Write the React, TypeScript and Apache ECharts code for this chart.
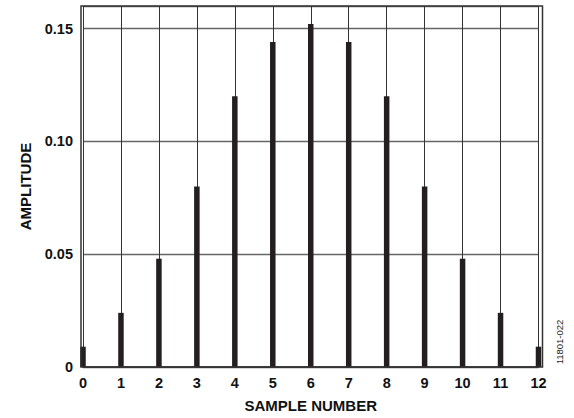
import React, { useEffect, useRef } from 'react';
import * as echarts from 'echarts';

// sample index vs amplitude
const samples = [0, 1, 2, 3, 4, 5, 6, 7, 8, 9, 10, 11, 12];
const amplitudes = [0.009, 0.024, 0.048, 0.08, 0.12, 0.144, 0.152, 0.144, 0.12, 0.08, 0.048, 0.024, 0.009];
const yTicks = [0, 0.05, 0.1, 0.15];

const FONT = 'Liberation Sans, Arial, sans-serif';

export default function App() {
  const chartRef = useRef<HTMLDivElement>(null);

  useEffect(() => {
    if (!chartRef.current) return;
    document.body.style.margin = '0';

    const chart = echarts.init(chartRef.current, null, { renderer: 'svg' });

    chart.setOption({
      animation: false,
      backgroundColor: '#ffffff',
      grid: { left: 83, top: 6, width: 455.5, height: 361 },
      xAxis: {
        type: 'value',
        min: 0,
        max: 12,
        interval: 1,
        name: 'SAMPLE NUMBER',
        nameLocation: 'middle',
        nameGap: 31,
        nameTextStyle: { fontFamily: FONT, fontWeight: 'bold', fontSize: 15, color: '#111' },
        axisLine: { show: true, lineStyle: { color: '#333', width: 1.5 } },
        axisTick: { show: false },
        axisLabel: { margin: 8, fontFamily: FONT, fontWeight: 'bold', fontSize: 14.5, color: '#111' },
        splitLine: { show: true, lineStyle: { color: '#333', width: 1 } }
      },
      yAxis: {
        type: 'value',
        min: 0,
        max: 0.16,
        interval: 0.05,
        name: 'AMPLITUDE',
        nameLocation: 'middle',
        nameGap: 50,
        nameTextStyle: { fontFamily: FONT, fontWeight: 'bold', fontSize: 15, color: '#111' },
        axisLine: { show: false },
        axisTick: { show: false },
        axisLabel: {
          margin: 10,
          showMaxLabel: false,
          fontFamily: FONT,
          fontWeight: 'bold',
          fontSize: 14.5,
          color: '#111',
          formatter: (v: number) => {
            const t = yTicks.find(k => Math.abs(k - v) < 1e-9);
            if (t === undefined) return '';
            return t === 0 ? '0' : t.toFixed(2);
          }
        },
        splitLine: { show: true, lineStyle: { color: '#666', width: 1.3 } }
      },
      graphic: [
        {
          type: 'rect',
          shape: { x: 81, y: 6, width: 461.5, height: 361 },
          style: { fill: 'none', stroke: '#333', lineWidth: 1.5 },
          z: 100
        },
        {
          type: 'text',
          x: 559,
          y: 342,
          rotation: Math.PI / 2,
          style: {
            text: '11801-022',
            fontFamily: FONT,
            fontSize: 9.5,
            fill: '#222',
            align: 'center',
            verticalAlign: 'middle'
          }
        }
      ],
      series: [
        {
          type: 'bar',
          data: samples.map((s, i) => [s, amplitudes[i]]),
          barWidth: 5.5,
          itemStyle: { color: '#231f20' },
          z: 5
        }
      ]
    });

    return () => chart.dispose();
  }, []);

  return <div ref={chartRef} style={{ width: 574, height: 418 }}></div>;
}
